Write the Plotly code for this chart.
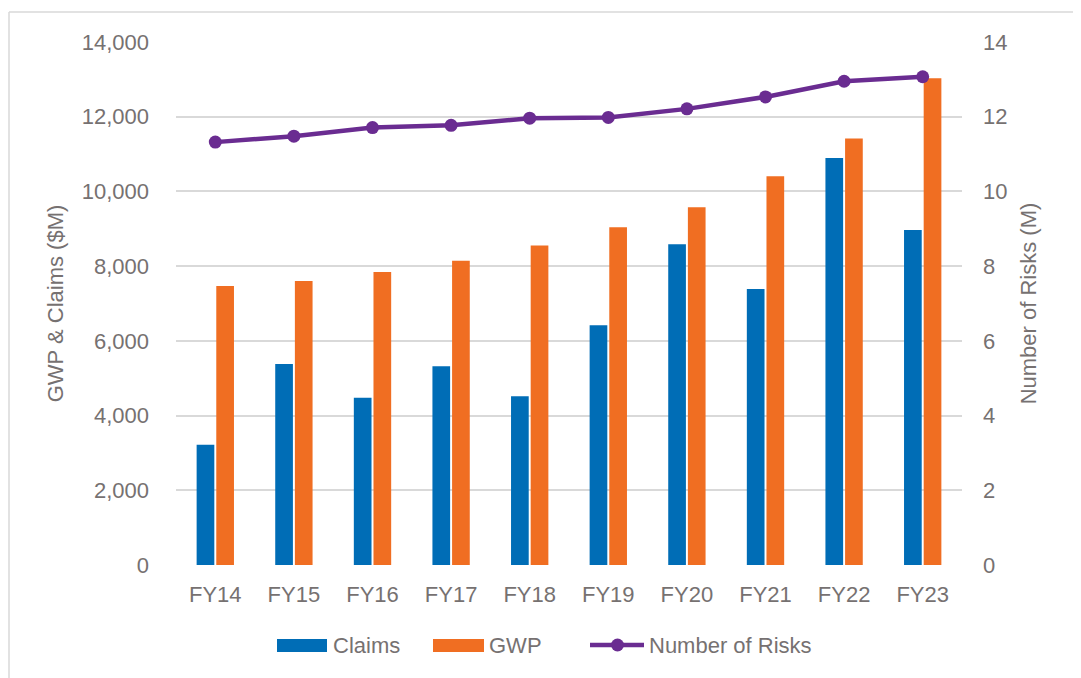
import plotly.graph_objects as go

categories = ["FY14", "FY15", "FY16", "FY17", "FY18", "FY19", "FY20", "FY21", "FY22", "FY23"]
claims = [3220, 5380, 4480, 5320, 4520, 6415, 8585, 7385, 10895, 8965]
gwp = [7470, 7600, 7845, 8145, 8555, 9040, 9575, 10405, 11420, 13030]
risks = [11.32, 11.48, 11.71, 11.77, 11.96, 11.98, 12.21, 12.53, 12.95, 13.07]

left_ticks = [0, 2000, 4000, 6000, 8000, 10000, 12000, 14000]
left_labels = ["0", "2,000", "4,000", "6,000", "8,000", "10,000", "12,000", "14,000"]
right_ticks = [0, 2, 4, 6, 8, 10, 12, 14]

CLAIMS_C = "#006DB6"
GWP_C = "#F06E22"
RISK_C = "#6A2C91"
GRAY = "#767171"
FONT = "Liberation Sans, Arial, sans-serif"
FS = 22

fig = go.Figure()
fig.add_trace(go.Bar(x=categories, y=claims, name="Claims", showlegend=False,
                     marker=dict(color=CLAIMS_C, line=dict(width=0))))
fig.add_trace(go.Bar(x=categories, y=gwp, name="GWP", showlegend=False,
                     marker=dict(color=GWP_C, line=dict(width=0))))
fig.add_trace(go.Scatter(x=categories, y=risks, name="Number of Risks", yaxis="y2", mode="lines+markers",
                         showlegend=False,
                         line=dict(color=RISK_C, width=4.5),
                         marker=dict(color=RISK_C, size=13)))

# page body has an 8px margin; figure is laid out in page coordinates minus that offset
OFF = 8
W, H = 1081 - OFF, 678 - OFF
L, T = 176 - OFF, 42 - OFF
R = W - (962 - OFF)
B = H - (565 - OFF)
pw, ph = W - L - R, H - T - B

def px(x):
    return (x - OFF - L) / pw

def py(y):
    return (H - B - (y - OFF)) / ph

shapes = [
    dict(type="line", xref="paper", yref="paper", x0=px(9), x1=px(1090), y0=py(12), y1=py(12),
         line=dict(color="#D9D9D9", width=1.5)),
    dict(type="line", xref="paper", yref="paper", x0=px(9), x1=px(9), y0=py(12), y1=py(690),
         line=dict(color="#D9D9D9", width=1.5)),
    # legend keys
    dict(type="rect", xref="paper", yref="paper", x0=px(277), x1=px(327), y0=py(639), y1=py(652),
         fillcolor=CLAIMS_C, line=dict(width=0)),
    dict(type="rect", xref="paper", yref="paper", x0=px(433), x1=px(484), y0=py(639), y1=py(652),
         fillcolor=GWP_C, line=dict(width=0)),
    dict(type="line", xref="paper", yref="paper", x0=px(590), x1=px(644), y0=py(645), y1=py(645),
         line=dict(color=RISK_C, width=4.5)),
    dict(type="circle", xref="paper", yref="paper", x0=px(611), x1=px(624), y0=py(638.5), y1=py(651.5),
         fillcolor=RISK_C, line=dict(width=0)),
]

annotations = [
    dict(text="Claims", xref="paper", yref="paper", x=px(331), y=py(645), xanchor="left", yanchor="middle",
         showarrow=False, font=dict(size=FS, color=GRAY)),
    dict(text="GWP", xref="paper", yref="paper", x=px(487), y=py(645), xanchor="left", yanchor="middle",
         showarrow=False, font=dict(size=FS, color=GRAY)),
    dict(text="Number of Risks", xref="paper", yref="paper", x=px(647), y=py(645), xanchor="left", yanchor="middle",
         showarrow=False, font=dict(size=FS, color=GRAY)),
]

fig.update_layout(
    width=W, height=H,
    margin=dict(l=L, r=R, t=T, b=B, pad=0, autoexpand=False),
    paper_bgcolor="white", plot_bgcolor="white",
    font=dict(family=FONT, size=FS, color=GRAY),
    barmode="group", bargap=0.5, bargroupgap=0.1,
    showlegend=False,
    xaxis=dict(range=[-0.5, len(categories) - 0.5], showgrid=False, showline=False, ticks="",
               tickfont=dict(size=FS, color=GRAY), ticklabelstandoff=14, automargin=False),
    yaxis=dict(range=[0, 14000], tickvals=left_ticks, ticktext=left_labels,
               showgrid=True, gridcolor="#D9D9D9", gridwidth=1.5, zeroline=False,
               showline=False, ticks="", tickfont=dict(size=FS, color=GRAY),
               ticklabelstandoff=26, automargin=False,
               title=dict(text="GWP & Claims ($M)", font=dict(size=FS, color=GRAY), standoff=12)),
    yaxis2=dict(range=[0, 14], tickvals=right_ticks, overlaying="y", side="right",
                showgrid=False, zeroline=False, showline=False, ticks="",
                tickfont=dict(size=FS, color=GRAY), ticklabelstandoff=20, automargin=False,
                title=dict(text="Number of Risks (M)", font=dict(size=FS, color=GRAY), standoff=14)),
    shapes=shapes,
    annotations=annotations,
)

fig.write_html("out.html")
